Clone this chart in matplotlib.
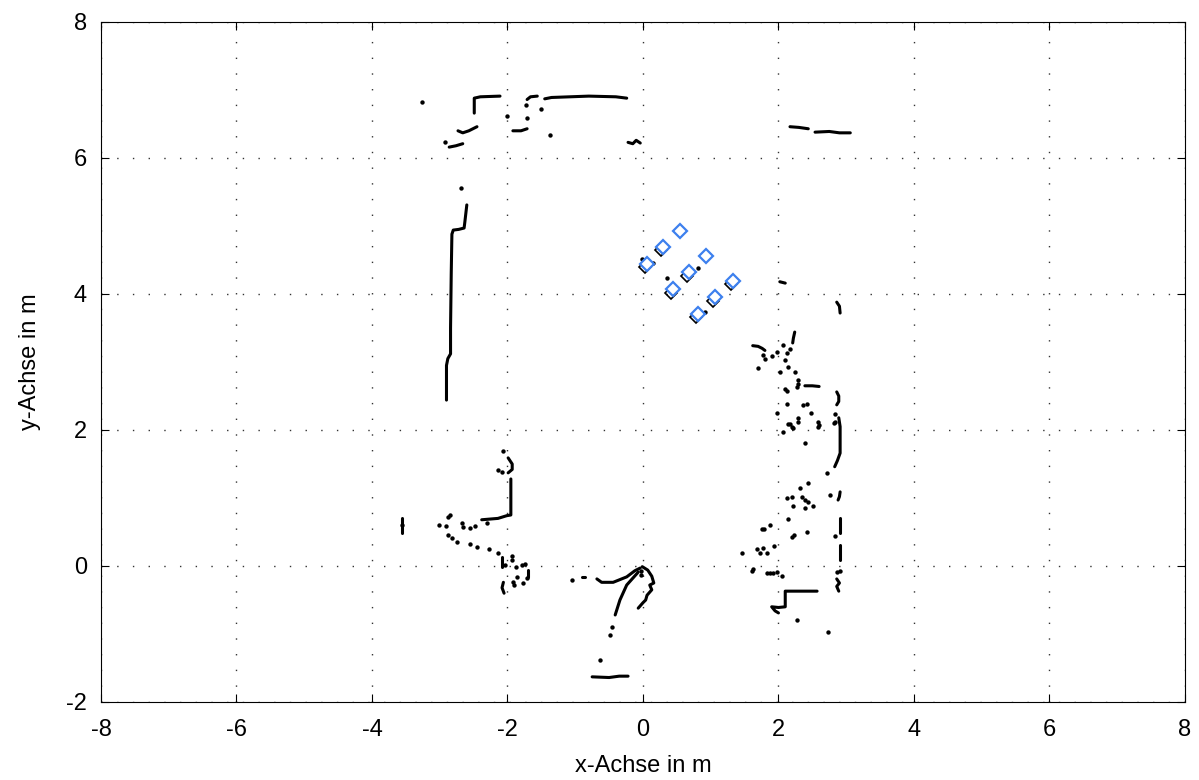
import numpy as np
import matplotlib
matplotlib.use("Agg")
import matplotlib.pyplot as plt

plt.rcParams['font.family'] = ['Liberation Sans', 'DejaVu Sans']

# ---- scan data (metres) ----
# continuous wall segments of the laser scan, as polylines
wall_segments = [
    ([-2.49, -2.49, -2.40, -2.11], [6.66, 6.88, 6.90, 6.91]),
    ([-2.73, -2.66, -2.57, -2.45], [6.40, 6.37, 6.40, 6.46]),
    ([-2.86, -2.76, -2.66], [6.16, 6.18, 6.21]),
    ([-1.92, -1.80, -1.71], [6.40, 6.40, 6.43]),
    ([-1.71, -1.66, -1.56], [6.86, 6.90, 6.91]),
    ([-1.45, -1.35, -0.80, -0.40, -0.24], [6.87, 6.89, 6.91, 6.90, 6.88]),
    ([-0.22, -0.15, -0.10, -0.04], [6.23, 6.21, 6.26, 6.22]),
    ([2.17, 2.30, 2.44], [6.46, 6.45, 6.43]),
    ([2.54, 2.75, 2.90, 3.06], [6.38, 6.39, 6.37, 6.37]),
    ([-2.60, -2.63, -2.64, -2.72, -2.80, -2.82, -2.83, -2.84, -2.84, -2.88, -2.90, -2.90],
     [5.31, 5.05, 4.97, 4.95, 4.94, 4.88, 4.30, 3.50, 3.12, 3.05, 2.95, 2.44]),
    ([2.02, 2.10], [4.18, 4.16]),
    ([2.86, 2.90, 2.91], [3.88, 3.82, 3.72]),
    ([2.24, 2.22, 2.21], [3.44, 3.35, 3.28]),
    ([1.62, 1.70, 1.76, 1.80], [3.24, 3.23, 3.20, 3.17]),
    ([2.39, 2.50, 2.60], [2.65, 2.65, 2.64]),
    ([2.86, 2.89, 2.89, 2.86], [2.56, 2.50, 2.42, 2.37]),
    ([2.89, 2.91, 2.91, 2.87, 2.83], [2.18, 2.05, 1.66, 1.55, 1.46]),
    ([2.91, 2.90, 2.88], [1.09, 1.02, 0.97]),
    ([2.91, 2.91], [0.71, 0.49]),
    ([2.91, 2.91], [0.31, 0.09]),
    ([2.86, 2.90, 2.86, 2.89], [-0.19, -0.25, -0.30, -0.37]),
    ([2.57, 2.10, 2.10, 2.00, 1.90, 1.95, 2.00], [-0.37, -0.37, -0.60, -0.61, -0.60, -0.66, -0.69]),
    ([-1.99, -1.93, -1.93, -1.99], [1.59, 1.50, 1.42, 1.37]),
    ([-1.95, -1.95, -2.01, -2.14, -2.26, -2.38], [1.28, 0.75, 0.74, 0.70, 0.69, 0.68]),
    ([-3.56, -3.56], [0.71, 0.49]),
    ([-2.08, -2.08], [0.13, -0.01]),
    ([-1.70, -1.70], [-0.06, -0.16]),
    ([-2.06, -2.08, -2.05], [-0.24, -0.32, -0.40]),
    ([-0.68, -0.61, -0.44, -0.24, -0.12, -0.04], [-0.19, -0.24, -0.24, -0.16, -0.07, -0.03]),
    ([-0.07, -0.24, -0.34, -0.41], [-0.09, -0.28, -0.50, -0.72]),
    ([-0.01, 0.07, 0.13, 0.16, 0.10, 0.13, 0.06, 0.04, 0.00, -0.07],
     [-0.01, -0.06, -0.15, -0.25, -0.28, -0.35, -0.43, -0.50, -0.54, -0.62]),
    ([-0.75, -0.50, -0.35, -0.22], [-1.63, -1.64, -1.62, -1.62]),
    ([-0.90, -0.86], [-0.16, -0.16]),
]

# single scan returns
dots_x = [-3.26, -2.92, -2.01, -1.71, -1.73, -1.51, -1.37, -2.69,
          -0.02, 0.15, 0.35, 0.81, 0.92,
          2.07, 2.17, 1.98, 1.90, 1.77, 1.80, 2.12, 2.10, 1.70, 2.14, 2.02, 2.24,
          2.29, 2.29, 2.09, 2.12, 2.27, 2.12, 2.36, 2.42, 1.98, 2.48, 2.83, 2.29,
          2.14, 2.20, 2.58, 2.58, 2.83,
          2.17, 2.07, 2.21, 2.29, 2.60, 2.82, 2.39, 2.72,
          2.44, 2.32, 2.12, 2.20, 2.35, 2.39, 2.44, 2.51, 2.21, 2.39, 2.76,
          2.14, 1.87, 1.76, 1.78, 2.20, 2.23, 2.42, 2.83,
          1.68, 1.77, 1.73, 1.83, 1.93, 1.46,
          1.61, 1.62, 1.83, 1.88, 1.92, 1.98, 2.05, 2.86, 2.91, 2.27, 2.73,
          -2.07, -2.14, -2.08, -2.30, -2.48, -2.55, -2.67, -2.66, -2.85, -2.88,
          -3.01, -2.91, -3.56, -2.88, -2.82, -2.75, -2.55, -2.45, -2.27, -2.14,
          -2.04, -1.93, -1.93, -1.87, -1.79, -1.74, -1.71, -1.77, -1.92, -1.90, -1.86,
          -1.05, -0.46, -0.49, -0.63, -0.03, -0.03]
dots_y = [6.82, 6.24, 6.62, 6.59, 6.78, 6.72, 6.34, 5.56,
          4.51, 4.46, 4.24, 4.38, 3.74,
          3.25, 3.19, 3.15, 3.09, 3.10, 3.04, 3.13, 3.03, 2.91, 2.93, 2.85, 2.85,
          2.74, 2.67, 2.61, 2.58, 2.63, 2.38, 2.37, 2.38, 2.25, 2.25, 2.24, 2.18,
          2.09, 2.05, 2.12, 2.05, 2.12,
          2.09, 1.97, 2.03, 2.12, 2.07, 2.10, 1.81, 1.37,
          1.22, 1.15, 1.00, 1.01, 1.01, 0.97, 0.94, 0.88, 0.88, 0.85, 1.04,
          0.69, 0.60, 0.54, 0.55, 0.43, 0.45, 0.50, 0.44,
          0.25, 0.27, 0.19, 0.19, 0.29, 0.19,
          -0.07, -0.05, -0.10, -0.10, -0.10, -0.09, -0.15, -0.09, -0.08, -0.79, -0.97,
          1.69, 1.41, 1.38, 0.63, 0.59, 0.56, 0.63, 0.57, 0.75, 0.72,
          0.60, 0.59, 0.60, 0.46, 0.41, 0.35, 0.32, 0.28, 0.25, 0.19,
          0.01, 0.15, 0.09, -0.01, 0.01, 0.03, -0.18, -0.25, -0.24, -0.28, -0.16,
          -0.21, -0.90, -1.01, -1.38, -0.08, -0.13]

# detected object positions
obj_x = [0.55, 0.30, 0.93, 0.06, 0.68, 0.44, 1.06, 0.81, 1.33]
obj_y = [4.93, 4.69, 4.56, 4.44, 4.32, 4.07, 3.95, 3.71, 4.19]
# scan returns from the objects themselves
obj_hit_x = [0.27, 0.03, 0.65, 0.41, 1.03, 0.78, 1.30]
obj_hit_y = [4.64, 4.39, 4.27, 4.02, 3.90, 3.66, 4.14]

x_ticks = [-8, -6, -4, -2, 0, 2, 4, 6, 8]
y_ticks = [-2, 0, 2, 4, 6, 8]

fig = plt.figure(figsize=(11.99, 7.80), dpi=100)
ax = fig.add_axes([0.0842, 0.1, 0.9041, 0.8718])

for xs, ys in wall_segments:
    ax.plot(xs, ys, color='black', lw=2.2, solid_capstyle='round',
            solid_joinstyle='round', zorder=3)
ax.scatter(dots_x, dots_y, s=10, color='black', linewidths=0, zorder=3)
ax.plot(obj_hit_x, obj_hit_y, linestyle='none', marker='D', markersize=6.5,
        markerfacecolor='none', markeredgecolor='black', markeredgewidth=1.2, zorder=3)
ax.plot(obj_x, obj_y, linestyle='none', marker='D', markersize=7.5,
        markerfacecolor='white', markeredgecolor='#3d80ee', markeredgewidth=1.6, zorder=4)

ax.set_xlim(-8, 8)
ax.set_ylim(-2, 8)
ax.set_xticks(x_ticks)
ax.set_yticks(y_ticks)
ax.set_xticklabels([str(v) for v in x_ticks])
ax.set_yticklabels([str(v) for v in y_ticks])
ax.grid(True, color='0.2', linewidth=1.0, linestyle=(0, (1, 10.3)))
ax.set_axisbelow(True)
ax.tick_params(direction='in', length=6, width=0.8, top=True, right=True,
               labelsize=17)
ax.tick_params(axis='x', pad=12)
ax.tick_params(axis='y', pad=10)
for sp in ax.spines.values():
    sp.set_linewidth(0.8)
ax.set_xlabel('x-Achse in m', fontsize=17, labelpad=10)
ax.set_ylabel('y-Achse in m', fontsize=17, labelpad=18)

fig.savefig('out.png', dpi=100)
